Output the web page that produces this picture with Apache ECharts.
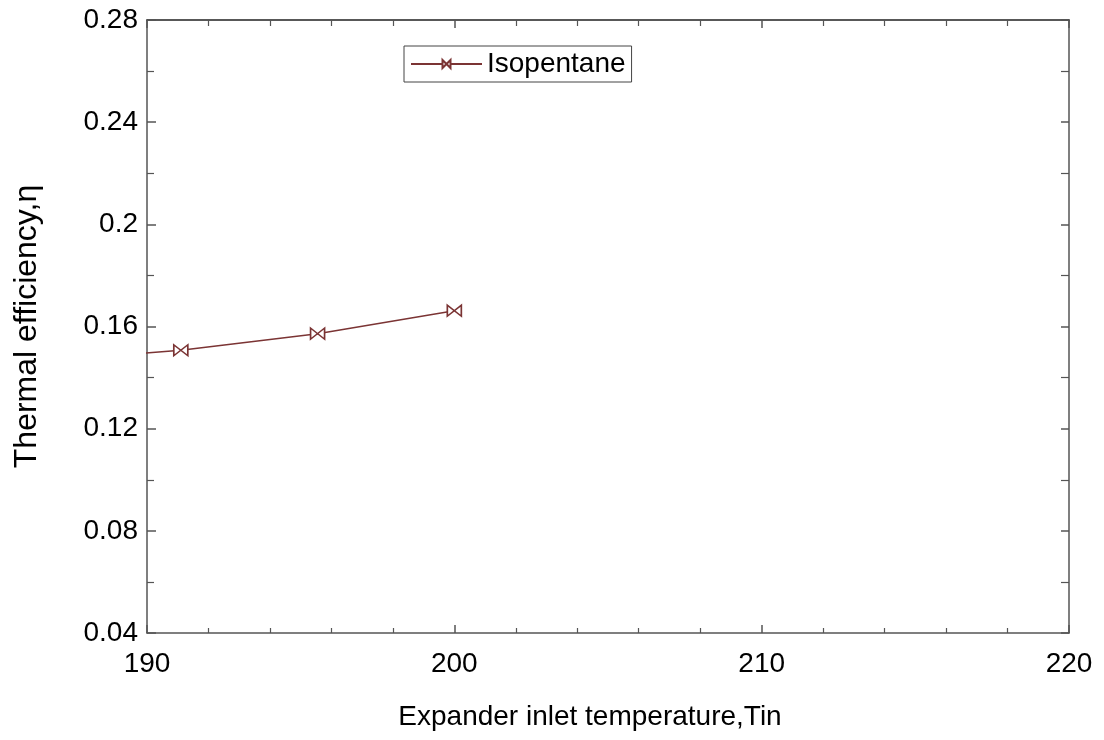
<!DOCTYPE html>
<html>
<head>
<meta charset="utf-8">
<script src="https://cdn.jsdelivr.net/npm/echarts@6/dist/echarts.min.js"></script>
<style>html,body{margin:0;padding:0;background:#fff}#c{width:1104px;height:740px}</style>
</head>
<body>
<div id="c"></div>
<script>
const seriesName = 'Isopentane';
const xValues = [186.6, 191.1, 195.55, 200.0];
const yValues = [0.1466, 0.1507, 0.1572, 0.1662];
const xTicks = [190, 200, 210, 220];
const yTicks = [0.04, 0.08, 0.12, 0.16, 0.2, 0.24, 0.28];

const font = 'Liberation Sans, Arial, sans-serif';
const axisColor = '#555';
const lineColor = '#7b3434';
const bowtie = 'path://M0,0 L0,10 L20,0 L20,10 Z';

const chart = echarts.init(document.getElementById('c'), null, {renderer: 'canvas'});
const tick = {show: true, inside: true, length: 8, lineStyle: {color: axisColor, width: 1.5}};
const line = {show: true, onZero: false, lineStyle: {color: axisColor, width: 1.5}};
chart.setOption({
  animation: false,
  grid: {left: 147, right: 35, top: 20, bottom: 107},
  legend: {
    left: 404, top: 46,
    padding: [4, 6, 4, 6],
    borderColor: '#444', borderWidth: 1,
    itemWidth: 71, itemHeight: 10, itemGap: 4,
    textStyle: {fontFamily: font, fontSize: 28, color: '#000', padding: [1, 0, 0, 0]},
    data: [seriesName]
  },
  xAxis: [
    {
      type: 'value', min: xTicks[0], max: xTicks[xTicks.length - 1], interval: 10,
      axisLine: line, axisTick: tick, splitLine: {show: false},
      minorTick: {show: true, splitNumber: 5, length: 5, lineStyle: {color: axisColor, width: 1.2}},
      axisLabel: {fontFamily: font, fontSize: 28, color: '#000', margin: 17},
      name: 'Expander inlet temperature,Tin', nameLocation: 'middle', nameGap: 70,
      nameTextStyle: {fontFamily: font, fontSize: 28, color: '#000', padding: [0, 36, 0, 0]}
    },
    {
      type: 'value', position: 'top', min: xTicks[0], max: xTicks[xTicks.length - 1], interval: 10,
      axisLine: {show: true, onZero: false, lineStyle: {color: '#222', width: 1.5}},
      axisTick: tick, splitLine: {show: false},
      minorTick: {show: true, splitNumber: 5, length: 6, lineStyle: {color: axisColor, width: 1.2}},
      axisLabel: {show: false}
    }
  ],
  yAxis: [
    {
      type: 'value', min: yTicks[0], max: yTicks[yTicks.length - 1], interval: 0.04,
      axisLine: line, axisTick: Object.assign({}, tick, {length: 9}), splitLine: {show: false},
      minorTick: {show: true, splitNumber: 2, length: 7, lineStyle: {color: axisColor, width: 1.2}},
      axisLabel: {fontFamily: font, fontSize: 28, color: '#000', margin: 9,
        formatter: v => parseFloat(v.toFixed(2)).toString()},
      name: 'Thermal efficiency,η', nameLocation: 'middle', nameGap: 104,
      nameTextStyle: {fontFamily: font, fontSize: 32, color: '#000'}
    },
    {
      type: 'value', position: 'right', min: yTicks[0], max: yTicks[yTicks.length - 1], interval: 0.04,
      axisLine: line, axisTick: tick, splitLine: {show: false},
      minorTick: {show: true, splitNumber: 2, length: 8, lineStyle: {color: axisColor, width: 1.2}},
      axisLabel: {show: false}
    }
  ],
  series: [{
    name: seriesName,
    type: 'line',
    clip: true,
    data: xValues.map((x, i) => [x, yValues[i]]),
    symbol: bowtie,
    symbolSize: [14, 11],
    showAllSymbol: true,
    lineStyle: {color: lineColor, width: 1.5},
    itemStyle: {color: '#fff', borderColor: lineColor, borderWidth: 1.5}
  }]
});
</script>
</body>
</html>
